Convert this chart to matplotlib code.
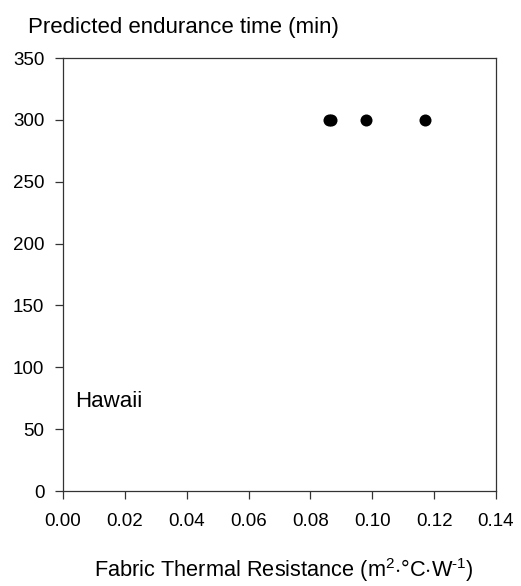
import matplotlib
matplotlib.use("Agg")
import matplotlib.pyplot as plt

plt.rcParams['font.family'] = ['Liberation Sans', 'DejaVu Sans']
plt.rcParams['mathtext.fontset'] = 'custom'
plt.rcParams['mathtext.rm'] = 'Liberation Sans'
plt.rcParams['mathtext.it'] = 'Liberation Sans:italic'

# data
resistance = [0.0860, 0.0867, 0.098, 0.117]
endurance = [300, 300, 300, 300]
x_ticks = [0.00, 0.02, 0.04, 0.06, 0.08, 0.10, 0.12, 0.14]
y_ticks = [0, 50, 100, 150, 200, 250, 300, 350]

fig = plt.figure(figsize=(5.21, 5.86), dpi=100)
ax = fig.add_axes([0.121, 0.162, 0.831, 0.739])

ax.scatter(resistance, endurance, s=75, color='black', linewidths=0, zorder=3)

ax.set_xlim(0, 0.14)
ax.set_ylim(0, 350)
ax.set_xticks(x_ticks)
ax.set_xticklabels([f"{t:.2f}" for t in x_ticks])
ax.set_yticks(y_ticks)
ax.tick_params(direction='out', length=5.5, width=0.9, labelsize=13.5,
               colors='#333333', labelcolor='black', pad=8)
ax.tick_params(axis='x', pad=10)
for s in ax.spines.values():
    s.set_linewidth(0.9)
    s.set_color('#333333')

ax.text(0.0039, 67.7, 'Hawaii', fontsize=16, va='baseline')
fig.text(28 / 521, 1 - 33 / 586, 'Predicted endurance time (min)', fontsize=16,
         va='baseline', ha='left')
fig.text(284 / 521, 1 - 577 / 586,
         r'Fabric Thermal Resistance (m$^{2}$$\cdot$°C$\cdot$W$^{\text{-1}}$)',
         fontsize=15.7, va='baseline', ha='center')

fig.savefig('out.png', dpi=100)
